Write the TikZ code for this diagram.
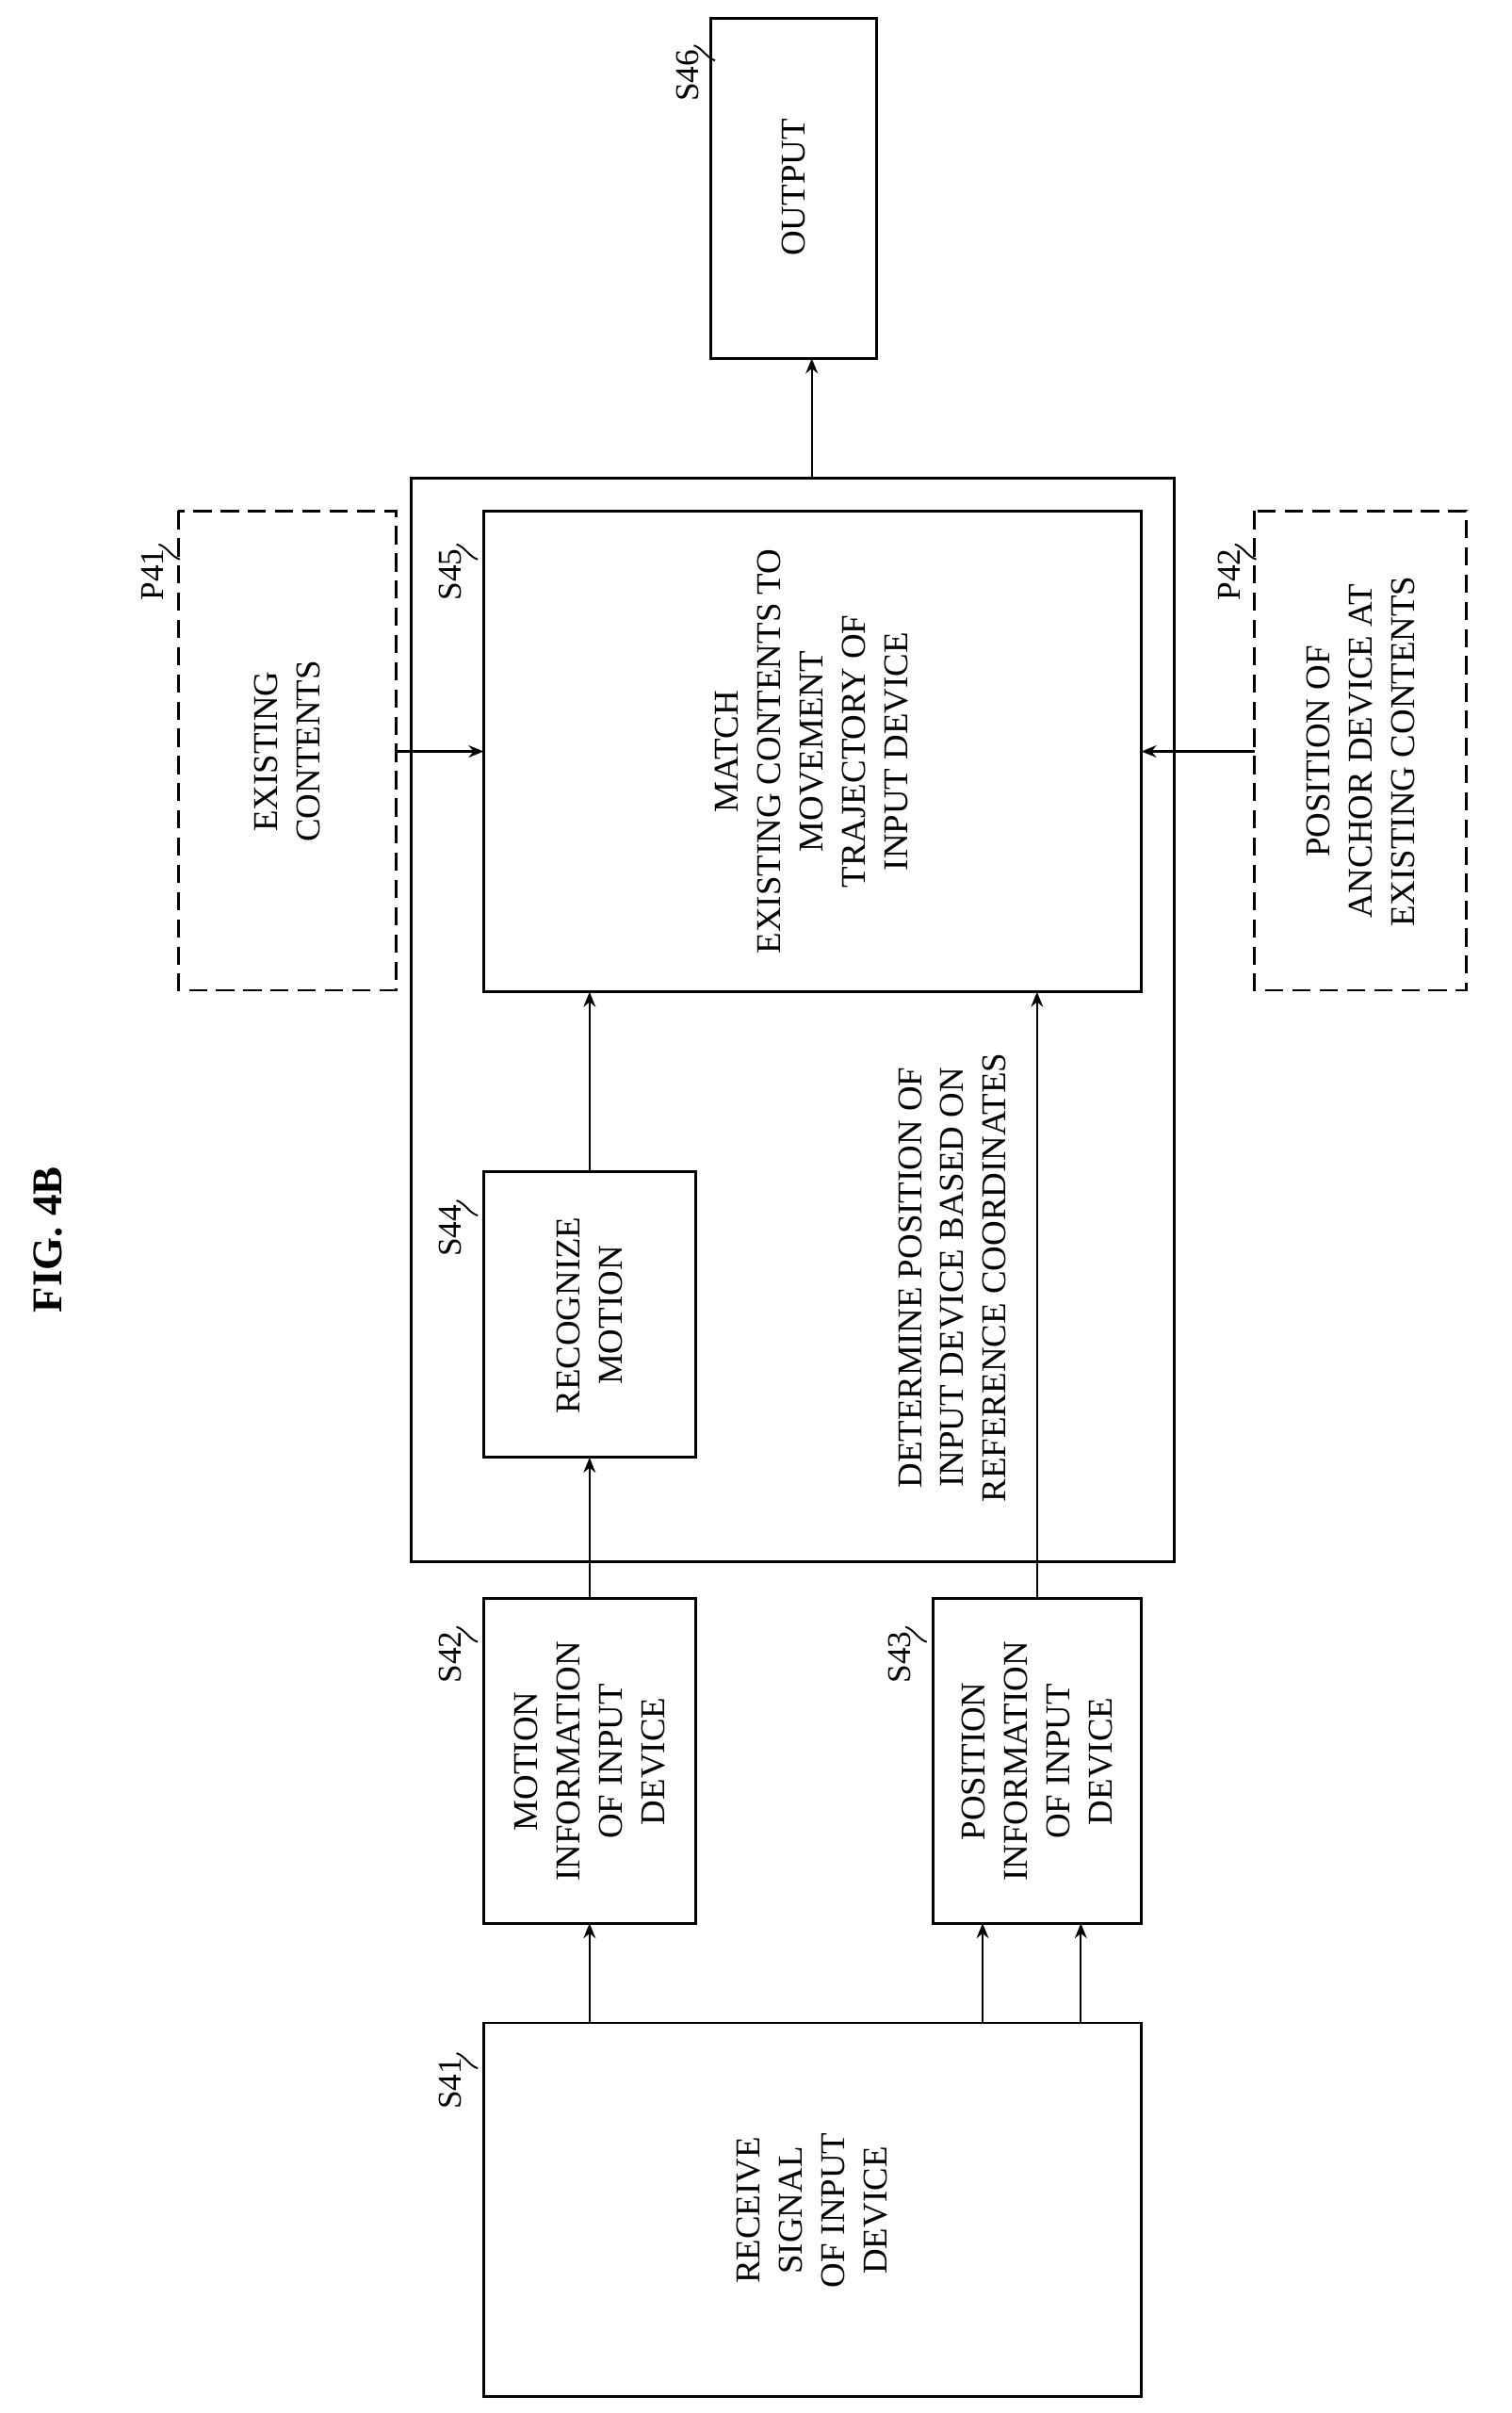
\documentclass[tikz,border=0pt]{standalone}
\usetikzlibrary{arrows.meta}
\usepackage{fontspec}
\setmainfont{Liberation Serif}
\begin{document}
\begin{tikzpicture}[x=0.5pt,y=-0.5pt,
  box/.style={draw,line width=0.9pt},
  dbox/.style={draw,line width=0.9pt,dash pattern=on 6pt off 3pt},
  txt/.style={rotate=90,align=center,font=\fontsize{11.5}{14}\selectfont},
  lab/.style={rotate=90,font=\fontsize{11}{13}\selectfont},
  arr/.style={-{Stealth[length=5pt,width=4pt]},line width=0.7pt}]
\useasboundingbox (0,0) rectangle (1000,1596);
\node[rotate=90,font=\bfseries\fontsize{14}{16}\selectfont] (fig) at (32,820) {FIG. 4B};
% outer
\draw[box] (272,316) coordinate (oTL) rectangle (777,1033) coordinate (oBR);
\coordinate (otop) at (537,316);
% boxes
\draw[box] (470,12) rectangle (580,237); \node[txt] (s46) at (525,124) {OUTPUT};
\draw[box] (320,338) rectangle (755,656); \node[txt] (s45) at (537,497) {MATCH\\EXISTING CONTENTS TO\\MOVEMENT\\TRAJECTORY OF\\INPUT DEVICE};
\draw[dbox] (118,338) rectangle (262,655); \node[txt] (p41) at (190,497) {EXISTING\\CONTENTS};
\draw[dbox] (830,338) rectangle (970,655); \node[txt] (p42) at (900,497) {POSITION OF\\ANCHOR DEVICE AT\\EXISTING CONTENTS};
\draw[box] (320,775) rectangle (460,964); \node[txt] (s44) at (390,870) {RECOGNIZE\\MOTION};
\draw[box] (320,1057) rectangle (460,1272); \node[txt] (s42) at (390,1165) {MOTION\\INFORMATION\\OF INPUT\\DEVICE};
\draw[box] (617,1057) rectangle (755,1272); \node[txt] (s43) at (686,1165) {POSITION\\INFORMATION\\OF INPUT\\DEVICE};
\draw[box] (320,1338) rectangle (755,1585); \node[txt] (s41) at (537,1462) {RECEIVE\\SIGNAL\\OF INPUT\\DEVICE};
\node[txt] (det) at (630,845) {DETERMINE POSITION OF\\INPUT DEVICE BASED ON\\REFERENCE COORDINATES};
% labels
\foreach \n/\x/\y in {S46/455/26,S45/298/356,P41/101/356,P42/813/356,S44/298/790,S42/298/1072,S43/595/1072,S41/298/1354}{
  \node[lab,anchor=east] (l\n) at (\x,\y) {\n};
  \draw[line width=0.6pt] (\x+4,\y+4) .. controls (\x+10,\y+6) and (\x+12,\y+12) .. (\x+18,\y+14);
}
% arrows
\draw[arr] (390,1338) -- (390,1272);
\draw[arr] (650,1338) -- (650,1272);
\draw[arr] (715,1338) -- (715,1272);
\draw[arr] (390,1057) -- (390,964);
\draw[arr] (390,775) -- (390,656);
\draw[arr] (686,1057) -- (686,656);
\draw[arr] (262,497) -- (320,497);
\draw[arr] (830,497) -- (755,497);
\draw[arr] (otop) -- (537,237);
\end{tikzpicture}
\end{document}
